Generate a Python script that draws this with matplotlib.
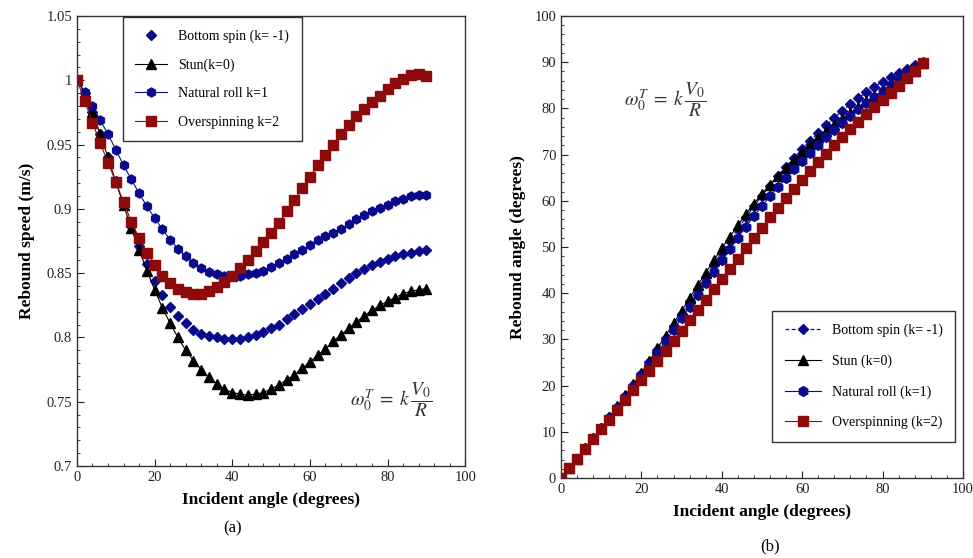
import matplotlib
matplotlib.use("Agg")
import matplotlib.pyplot as plt
from matplotlib.ticker import MultipleLocator, FuncFormatter
import numpy as np

plt.rcParams['font.family'] = ['Liberation Serif', 'DejaVu Serif']
plt.rcParams['mathtext.fontset'] = 'stix'

# incident angle, degrees (same for every series)
angle = list(range(0, 92, 2))

# (a) rebound speed, m/s
speed_bottom = [1.000, 0.990, 0.975, 0.958, 0.940, 0.922, 0.904, 0.887, 0.871, 0.857,
                0.844, 0.833, 0.824, 0.817, 0.811, 0.806, 0.803, 0.801, 0.800, 0.799,
                0.799, 0.799, 0.800, 0.802, 0.804, 0.807, 0.810, 0.814, 0.818, 0.822,
                0.826, 0.830, 0.834, 0.838, 0.842, 0.846, 0.850, 0.853, 0.856, 0.859,
                0.861, 0.863, 0.865, 0.866, 0.867, 0.868]
speed_stun = [1.000, 0.990, 0.975, 0.958, 0.940, 0.921, 0.903, 0.885, 0.868, 0.852,
              0.837, 0.823, 0.811, 0.800, 0.790, 0.782, 0.775, 0.769, 0.764, 0.760,
              0.757, 0.756, 0.755, 0.756, 0.757, 0.760, 0.763, 0.767, 0.771, 0.776,
              0.781, 0.786, 0.791, 0.797, 0.802, 0.807, 0.812, 0.817, 0.821, 0.825,
              0.828, 0.831, 0.834, 0.836, 0.837, 0.838]
speed_natural = [1.000, 0.991, 0.980, 0.969, 0.958, 0.946, 0.934, 0.923, 0.912, 0.902,
                 0.893, 0.884, 0.876, 0.869, 0.863, 0.858, 0.854, 0.851, 0.849, 0.848,
                 0.848, 0.848, 0.849, 0.850, 0.852, 0.855, 0.858, 0.861, 0.865, 0.868,
                 0.872, 0.876, 0.879, 0.881, 0.884, 0.888, 0.892, 0.895, 0.898, 0.901,
                 0.903, 0.906, 0.908, 0.910, 0.911, 0.911]
speed_over = [1.000, 0.984, 0.967, 0.951, 0.936, 0.921, 0.905, 0.890, 0.877, 0.866,
              0.856, 0.848, 0.842, 0.838, 0.835, 0.834, 0.834, 0.836, 0.839, 0.843,
              0.848, 0.854, 0.860, 0.867, 0.874, 0.881, 0.889, 0.898, 0.907, 0.916,
              0.925, 0.934, 0.942, 0.950, 0.958, 0.965, 0.972, 0.978, 0.983, 0.988,
              0.993, 0.998, 1.001, 1.004, 1.005, 1.003]

# (b) rebound angle, degrees
reb_bottom = [0.0, 2.1, 4.2, 6.4, 8.6, 10.8, 13.1, 15.4, 17.8, 20.2,
              22.6, 25.1, 27.7, 30.3, 32.9, 35.5, 38.2, 40.9, 43.6, 46.2,
              48.8, 51.4, 53.9, 56.4, 58.8, 61.1, 63.3, 65.4, 67.4, 69.3,
              71.2, 73.0, 74.7, 76.4, 78.0, 79.5, 80.9, 82.2, 83.5, 84.7,
              85.8, 86.8, 87.7, 88.6, 89.3, 90.0]
reb_stun = [0.0, 2.1, 4.2, 6.4, 8.6, 10.8, 13.1, 15.5, 17.9, 20.3,
            22.8, 25.4, 28.1, 30.8, 33.5, 36.2, 39.0, 41.7, 44.4, 47.1,
            49.7, 52.2, 54.7, 57.1, 59.4, 61.5, 63.5, 65.4, 67.2, 68.9,
            70.6, 72.2, 73.7, 75.1, 76.5, 77.8, 79.1, 80.3, 81.5, 82.6,
            83.7, 84.8, 85.9, 87.0, 88.0, 89.9]
reb_natural = [0.0, 2.1, 4.2, 6.3, 8.5, 10.7, 12.9, 15.2, 17.5, 19.8,
               22.2, 24.6, 27.1, 29.6, 32.1, 34.6, 37.1, 39.6, 42.1, 44.6,
               47.1, 49.6, 52.0, 54.4, 56.7, 58.9, 61.0, 63.0, 64.9, 66.8,
               68.6, 70.4, 72.1, 73.7, 75.3, 76.9, 78.4, 79.8, 81.2, 82.5,
               83.8, 85.0, 86.2, 87.4, 88.6, 89.9]
reb_over = [0.0, 2.1, 4.2, 6.3, 8.4, 10.5, 12.6, 14.7, 16.8, 19.0,
            21.1, 23.2, 25.4, 27.5, 29.7, 31.9, 34.1, 36.3, 38.5, 40.8,
            43.0, 45.3, 47.5, 49.8, 52.0, 54.2, 56.4, 58.5, 60.6, 62.6,
            64.6, 66.5, 68.4, 70.2, 72.0, 73.8, 75.5, 77.1, 78.7, 80.3,
            81.9, 83.4, 84.9, 86.5, 88.1, 89.8]

blue = '#0a0a8c'
red = '#8c0a0a'
formula = r'$\omega_0^T\;=\;k\,\dfrac{V_0}{R}$'

fig = plt.figure(figsize=(9.73, 5.58), dpi=100)
ax1 = fig.add_axes([0.0791, 0.1649, 0.399, 0.8065])
ax2 = fig.add_axes([0.5766, 0.1434, 0.413, 0.828])

# panel (a)
ax1.plot(angle, speed_bottom, ls='none', marker='D', ms=5, color=blue,
         label='Bottom spin (k= -1)')
ax1.plot(angle, speed_stun, color='black', lw=0.8, marker='^', ms=7,
         label='Stun(k=0)')
ax1.plot(angle, speed_natural, color=blue, lw=0.8, marker='h', ms=6.5,
         label='Natural roll k=1')
ax1.plot(angle, speed_over, color=red, lw=0.8, marker='s', ms=6.5,
         label='Overspinning k=2')
ax1.set_xlim(0, 100)
ax1.set_ylim(0.7, 1.05)
ax1.xaxis.set_major_locator(MultipleLocator(20))
ax1.xaxis.set_minor_locator(MultipleLocator(4))
ax1.yaxis.set_major_locator(MultipleLocator(0.05))
ax1.yaxis.set_minor_locator(MultipleLocator(0.01))
ax1.yaxis.set_major_formatter(FuncFormatter(lambda v, p: '%g' % round(v, 2)))
ax1.set_xlabel('Incident angle (degrees)', fontsize=12.5, fontweight='bold', labelpad=6)
ax1.set_ylabel('Rebound speed (m/s)', fontsize=12.5, fontweight='bold', labelpad=8)
ax1.text(81, 0.752, formula, fontsize=14, ha='center', va='center', color='#333333')
leg1 = ax1.legend(loc='upper left', bbox_to_anchor=(0.118, 0.997), borderaxespad=0,
                  fontsize=10, labelspacing=1.1, handlelength=2.3, fancybox=False,
                  edgecolor='black', borderpad=0.9)
leg1.get_frame().set_linewidth(1.0)
ax1.text(0.4, -0.12, '(a)', transform=ax1.transAxes, fontsize=12, ha='center', va='top')

# panel (b)
ax2.plot(angle, reb_bottom, color=blue, lw=0.9, ls=(0, (3, 2)), marker='D', ms=5,
         label='Bottom spin (k= -1)')
ax2.plot(angle, reb_stun, color='black', lw=0.8, marker='^', ms=7,
         label='Stun (k=0)')
ax2.plot(angle, reb_natural, color=blue, lw=0.8, marker='h', ms=7,
         label='Natural roll (k=1)')
ax2.plot(angle, reb_over, color=red, lw=0.8, marker='s', ms=6.5,
         label='Overspinning (k=2)')
ax2.set_xlim(0, 100)
ax2.set_ylim(0, 100)
ax2.xaxis.set_major_locator(MultipleLocator(20))
ax2.xaxis.set_minor_locator(MultipleLocator(4))
ax2.yaxis.set_major_locator(MultipleLocator(10))
ax2.yaxis.set_minor_locator(MultipleLocator(2))
ax2.set_xlabel('Incident angle (degrees)', fontsize=12.5, fontweight='bold', labelpad=6)
ax2.set_ylabel('Rebound angle (degrees)', fontsize=12.5, fontweight='bold', labelpad=6)
ax2.text(26, 82, formula, fontsize=14, ha='center', va='center', color='#333333')
leg2 = ax2.legend(loc='lower left', bbox_to_anchor=(0.525, 0.078), borderaxespad=0,
                  fontsize=10, labelspacing=1.25, handlelength=2.6, fancybox=False,
                  edgecolor='black', borderpad=0.9)
leg2.get_frame().set_linewidth(1.0)
ax2.text(0.52, -0.13, '(b)', transform=ax2.transAxes, fontsize=12, ha='center', va='top')

for ax in (ax1, ax2):
    ax.tick_params(which='both', direction='in', labelsize=10.5, colors='#222222')
    ax.tick_params(which='major', length=5)
    ax.tick_params(which='minor', length=2.5)
    for s in ax.spines.values():
        s.set_linewidth(1.0)
        s.set_color('#333333')

fig.savefig('out.png', dpi=100)
